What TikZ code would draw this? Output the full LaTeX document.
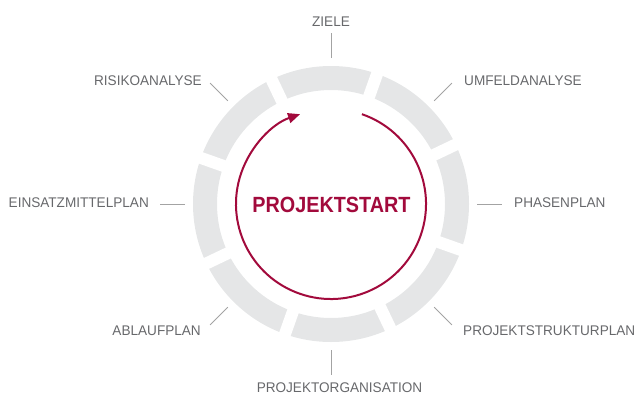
\documentclass[tikz,border=0pt]{standalone}
\usepackage{fontspec}
\setmainfont{Liberation Sans}
\newfontfamily\labelfont[FakeStretch=0.97]{Liberation Sans}
\newfontfamily\titlefont[FakeStretch=0.9]{Liberation Sans}
\usetikzlibrary{arrows.meta,calc}
\definecolor{ringgray}{HTML}{E5E6E7}
\definecolor{labelgray}{HTML}{67686B}
\definecolor{linegray}{HTML}{A3A3A3}
\definecolor{wine}{HTML}{A20A3C}
\tikzset{
  lbl/.style={inner sep=0pt, text=labelgray, font=\labelfont\fontsize{14bp}{16bp}\selectfont},
  leader/.style={draw=linegray, line width=0.8bp},
  gapline/.style={draw=white, line width=12bp},
  cycle arrow/.style={draw=wine, line width=2bp, -{Triangle[length=12bp,width=10bp]}},
  titletext/.style={inner sep=0pt, text=wine, font=\titlefont\bfseries\fontsize{22bp}{24bp}\selectfont}
}
\begin{document}
\begin{tikzpicture}[x=1bp,y=1bp]
\useasboundingbox (0,0) rectangle (636,394);
\coordinate (c) at (331,190);
% ring
\fill[ringgray, even odd rule] (c) circle[radius=138] (c) circle[radius=114];
\foreach \k in {0,...,7}{
  \draw[gapline] ($(c)+(25.5+45*\k:106)$) -- ($(c)+(25.5+45*\k:146)$);
}
% central cycle arrow
\coordinate (arcstart) at ($(c)+(71:95)$);
\draw[cycle arrow] (arcstart) arc[start angle=71, end angle=-251, radius=95];
\node[titletext] (start) at (331.5,189) {PROJEKTSTART};
% labels
\node[lbl, anchor=base] (ziele) at (331,368) {ZIELE};
\node[lbl, anchor=base west] (umfeld) at (464,309) {UMFELDANALYSE};
\node[lbl, anchor=base east] (risiko) at (202,309) {RISIKOANALYSE};
\node[lbl, anchor=base east] (einsatz) at (149,187) {EINSATZMITTELPLAN};
\node[lbl, anchor=base west] (phasen) at (514,187) {PHASENPLAN};
\node[lbl, anchor=base east] (ablauf) at (201,59) {ABLAUFPLAN};
\node[lbl, anchor=base west] (psp) at (463,59) {PROJEKTSTRUKTURPLAN};
\node[lbl, anchor=base] (orga) at (339.5,1.5) {PROJEKTORGANISATION};
% leader lines
\foreach \a/\n in {90/zl,45/ul,135/rl,0/pl,180/el,-45/sl,-135/al,-90/ol}{
  \coordinate (\n i) at ($(c)+(\a:146)$);
  \coordinate (\n o) at ($(c)+(\a:171)$);
  \draw[leader] (\n i) -- (\n o);
}
\end{tikzpicture}
\end{document}
